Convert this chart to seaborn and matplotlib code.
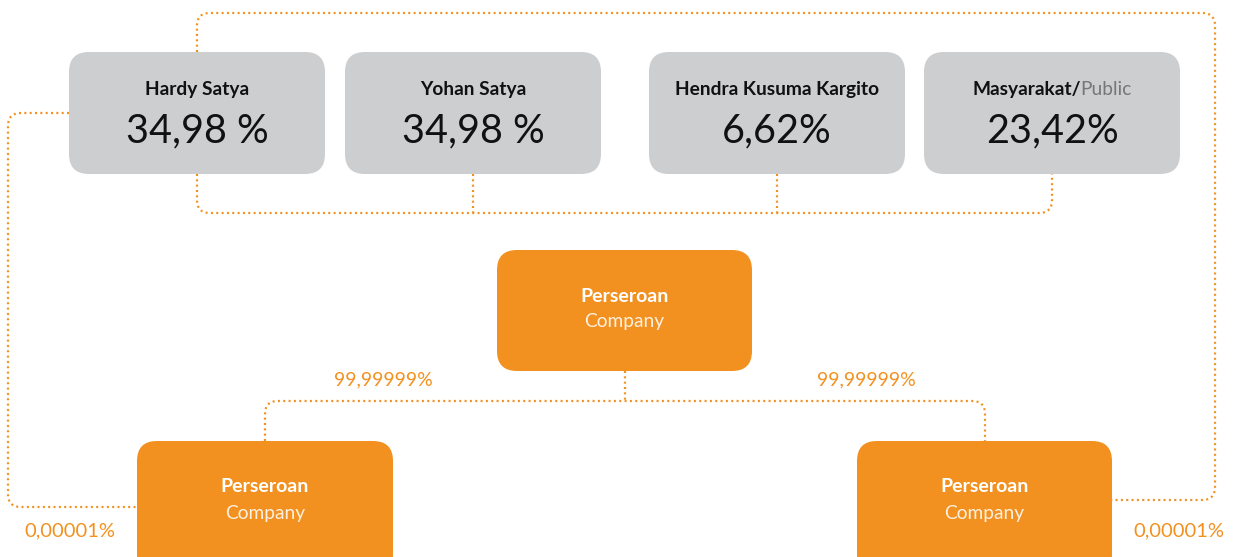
import numpy as np
import matplotlib
matplotlib.use("Agg")
import matplotlib.pyplot as plt
from matplotlib.patches import FancyBboxPatch
import seaborn as sns

# ---- data ----
shareholders = ["Hardy Satya", "Yohan Satya", "Hendra Kusuma Kargito", "Masyarakat/"]
shareholder_suffix = ["", "", "", "Public"]
shareholder_pct = ["34,98 %", "34,98 %", "6,62%", "23,42%"]
company_title = "Perseroan"
company_sub = "Company"
subsidiary_pct = ["99,99999%", "99,99999%"]
cross_pct = ["0,00001%", "0,00001%"]

sns.set_theme(style="white")
FONT = "Lato"
plt.rcParams['font.family'] = [FONT, 'DejaVu Sans']

ORANGE = "#F29120"
GRAY = "#CDCED0"

W, H = 1247, 557
fig = plt.figure(figsize=(W / 100, H / 100), dpi=100)
ax = fig.add_axes([0, 0, 1, 1])
ax.set_xlim(0, W)
ax.set_ylim(H, 0)
ax.axis("off")


def rbox(x0, y0, x1, y1, color, r=20):
    p = FancyBboxPatch((x0, y0), x1 - x0, y1 - y0,
                       boxstyle=f"round,pad=0,rounding_size={r}",
                       fc=color, ec="none", zorder=2)
    ax.add_patch(p)


def rounded_path(pts, r=13):
    pts = np.asarray(pts, float)
    out = [pts[0]]
    for i in range(1, len(pts) - 1):
        p0, p1, p2 = pts[i - 1], pts[i], pts[i + 1]
        d1 = (p1 - p0) / np.linalg.norm(p1 - p0)
        d2 = (p2 - p1) / np.linalg.norm(p2 - p1)
        a = p1 - d1 * r
        b = p1 + d2 * r
        t = np.linspace(0, 1, 12)
        curve = ((1 - t)[:, None] ** 2) * a + (2 * (1 - t) * t)[:, None] * p1 + (t[:, None] ** 2) * b
        out.extend(curve)
    out.append(pts[-1])
    out = np.array(out)
    return out[:, 0], out[:, 1]


def dotted(pts, r=13):
    x, y = rounded_path(pts, r)
    ax.plot(x, y, color=ORANGE, lw=1.6, linestyle=(0, (0.9, 1.5)), zorder=1,
            solid_capstyle="butt", dash_capstyle="butt")


# ---- connectors ----
dotted([(197, 52), (197, 13), (1215, 13), (1215, 500), (1112, 500)])
dotted([(69, 113), (8, 113), (8, 507), (137, 507)])
dotted([(197, 174), (197, 213), (1052, 213), (1052, 174)])
dotted([(473, 174), (473, 213)])
dotted([(777, 174), (777, 213)])
dotted([(625, 371), (625, 401)])
dotted([(265, 441), (265, 401), (985, 401), (985, 441)])

# ---- shareholder boxes ----
gx = [(69, 325), (345, 601), (649, 905), (924, 1180)]
fig.canvas.draw()
rend = fig.canvas.get_renderer()
NAME_Y = 95
for (x0, x1), name, suf, pct in zip(gx, shareholders, shareholder_suffix, shareholder_pct):
    rbox(x0, 52, x1, 174, GRAY)
    cx = (x0 + x1) / 2
    if suf:
        t1 = ax.text(0, NAME_Y, name, fontsize=13.8, fontweight="bold", color="#111111",
                     ha="left", va="baseline", zorder=3)
        t2 = ax.text(0, NAME_Y, suf, fontsize=13.8, color="#777777",
                     ha="left", va="baseline", zorder=3)
        w1 = t1.get_window_extent(rend).width
        w2 = t2.get_window_extent(rend).width
        start = cx - (w1 + w2) / 2
        t1.set_x(start)
        t2.set_x(start + w1)
    else:
        ax.text(cx, NAME_Y, name, fontsize=13.8, fontweight="bold", color="#111111",
                ha="center", va="baseline", zorder=3)
    ax.text(cx, 131, pct, fontsize=28.5, color="#111111", ha="center", va="center", zorder=3)

# ---- company boxes ----
ob = [(497, 250, 752, 371), (137, 441, 393, 575), (857, 441, 1112, 575)]
for x0, y0, x1, y1 in ob:
    rbox(x0, y0, x1, y1, ORANGE)
    cx = (x0 + x1) / 2
    ax.text(cx, y0 + 46, company_title, fontsize=14, fontweight="bold", color="white",
            ha="center", va="center", zorder=3)
    ax.text(cx, y0 + 72, company_sub, fontsize=13.8, color="#FDF0E0",
            ha="center", va="center", zorder=3)

# ---- percentage labels ----
for x, lab in zip([383, 866], subsidiary_pct):
    ax.text(x, 380, lab, fontsize=14, color=ORANGE, ha="center", va="center")
for x, lab in zip([70, 1179], cross_pct):
    ax.text(x, 531, lab, fontsize=14.5, color=ORANGE, ha="center", va="center")

fig.savefig("out.png", dpi=100, facecolor="white")
